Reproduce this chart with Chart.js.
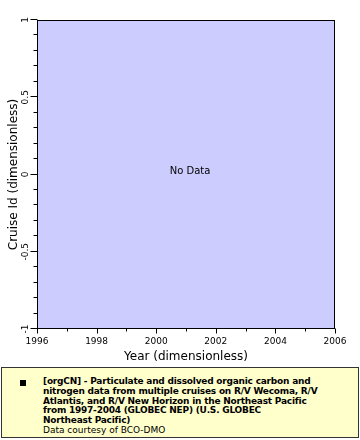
<!DOCTYPE html>
<html>
<head>
<meta charset="utf-8">
<script src="https://cdn.jsdelivr.net/npm/chart.js@4.4.1/dist/chart.umd.min.js"></script>
<style>
  html, body { margin: 0; padding: 0; background: #ffffff; }
  body { width: 360px; height: 440px; position: relative; overflow: hidden; font-family: "DejaVu Sans", sans-serif; }
  #wrap { position: absolute; left: 0; top: 0; width: 360px; height: 364px; }
  #legend { position: absolute; left: 1px; top: 367px; width: 356px; height: 69px; background: #ffffcc; border: 1px solid #333333; }
  #legend .mark { position: absolute; left: 18px; top: 12px; width: 6px; height: 6px; background: #000; }
  #legend .txt { position: absolute; left: 41px; top: 9px; font-size: 9px; line-height: 9.8px; color: #000; white-space: pre; }
  #legend .txt b { font-weight: bold; letter-spacing: -0.22px; }
</style>
</head>
<body>
<div id="wrap"><canvas id="c"></canvas></div>
<div id="legend">
  <div class="mark"></div>
  <div class="txt"><b>[orgCN] - Particulate and dissolved organic carbon and
nitrogen data from multiple cruises on R/V Wecoma, R/V
Atlantis, and R/V New Horizon in the Northeast Pacific
from 1997-2004 (GLOBEC NEP) (U.S. GLOBEC
Northeast Pacific)</b>
Data courtesy of BCO-DMO</div>
</div>
<script>
// ---- data ----
const xTickValues = [1996, 1998, 2000, 2002, 2004, 2006];
const xMinorValues = [1997, 1999, 2001, 2003, 2005];
const yTickValues = [-1, -0.5, 0, 0.5, 1];
const yMinorValues = [-0.9, -0.8, -0.7, -0.6, -0.4, -0.3, -0.2, -0.1, 0.1, 0.2, 0.3, 0.4, 0.6, 0.7, 0.8, 0.9];
const yTickLabels = ['-1', '-0.5', '0', '0.5', '1'];
const seriesX = [];
const seriesY = [];
const xTitle = 'Year (dimensionless)';
const yTitle = 'Cruise Id (dimensionless)';
const noDataText = 'No Data';

const FONT = '"DejaVu Sans", sans-serif';

const framePlugin = {
  id: 'frame',
  beforeDraw(chart) {
    const a = chart.chartArea, ctx = chart.ctx;
    ctx.save();
    ctx.fillStyle = '#ccccff';
    ctx.fillRect(a.left, a.top, a.right - a.left, a.bottom - a.top);
    ctx.restore();
  },
  afterDraw(chart) {
    const a = chart.chartArea, ctx = chart.ctx;
    const xs = chart.scales.x, ys = chart.scales.y;
    ctx.save();
    ctx.strokeStyle = '#000';
    ctx.lineWidth = 1;
    ctx.strokeRect(Math.round(a.left) + 0.5, Math.round(a.top) + 0.5, Math.round(a.right - a.left) - 1, Math.round(a.bottom - a.top) - 1);
    ctx.beginPath();
    const yb = Math.round(a.bottom) - 0.5;
    xTickValues.forEach(v => { const px = Math.round(xs.getPixelForValue(v)) + 0.5; ctx.moveTo(px, yb); ctx.lineTo(px, yb + 5); });
    xMinorValues.forEach(v => { const px = Math.round(xs.getPixelForValue(v)) + 0.5; ctx.moveTo(px, yb); ctx.lineTo(px, yb + 3); });
    const xl = Math.round(a.left) + 0.5;
    yTickValues.forEach(v => { const py = Math.round(ys.getPixelForValue(v)) - 0.5; ctx.moveTo(xl, py); ctx.lineTo(xl - 7, py); });
    yMinorValues.forEach(v => { const py = Math.round(ys.getPixelForValue(v)) - 0.5; ctx.moveTo(xl, py); ctx.lineTo(xl - 4, py); });
    ctx.stroke();
    // y tick labels, rotated
    ctx.fillStyle = '#000';
    ctx.font = '9px ' + FONT;
    ctx.textAlign = 'center';
    ctx.textBaseline = 'middle';
    yTickValues.forEach((v, i) => {
      const py = ys.getPixelForValue(v);
      ctx.save();
      ctx.translate(a.left - 11, py);
      ctx.rotate(-Math.PI / 2);
      ctx.fillText(yTickLabels[i], 0, 0);
      ctx.restore();
    });
    // no data text
    if (seriesX.length === 0) {
      ctx.font = '10px ' + FONT;
      ctx.textAlign = 'center';
      ctx.textBaseline = 'middle';
      ctx.fillText(noDataText, (a.left + a.right) / 2 + 4, (a.top + a.bottom) / 2 - 3);
    }
    ctx.restore();
  }
};

new Chart(document.getElementById('c'), {
  type: 'scatter',
  data: {
    datasets: [{
      label: 'orgCN',
      data: seriesX.map((x, i) => ({ x: x, y: seriesY[i] })),
      backgroundColor: '#000',
      pointStyle: 'rect',
      pointRadius: 3
    }]
  },
  options: {
    responsive: true,
    maintainAspectRatio: false,
    animation: false,
    layout: { padding: { top: 20, right: 25, left: 0, bottom: 0 } },
    plugins: { legend: { display: false }, tooltip: { enabled: false } },
    scales: {
      x: {
        type: 'linear', min: 1996, max: 2006,
        afterBuildTicks: s => { s.ticks = xTickValues.map(v => ({ value: v })); },
        afterFit: s => { s.height = 35; },
        grid: { display: false, drawTicks: false },
        border: { display: false },
        ticks: { color: '#000', font: { family: FONT, size: 9 }, padding: 7, maxRotation: 0, autoSkip: false, callback: v => String(v) },
        title: { display: true, text: xTitle, color: '#000', font: { family: FONT, size: 12 }, padding: { top: 0, bottom: 0 } }
      },
      y: {
        type: 'linear', min: -1, max: 1,
        afterBuildTicks: s => { s.ticks = yTickValues.map(v => ({ value: v })); },
        afterFit: s => { s.width = 37; },
        grid: { display: false, drawTicks: false },
        border: { display: false },
        ticks: { display: false },
        title: { display: true, text: yTitle, color: '#000', font: { family: FONT, size: 12 }, padding: { top: 7, bottom: 0 } }
      }
    }
  },
  plugins: [framePlugin]
});
</script>
</body>
</html>
